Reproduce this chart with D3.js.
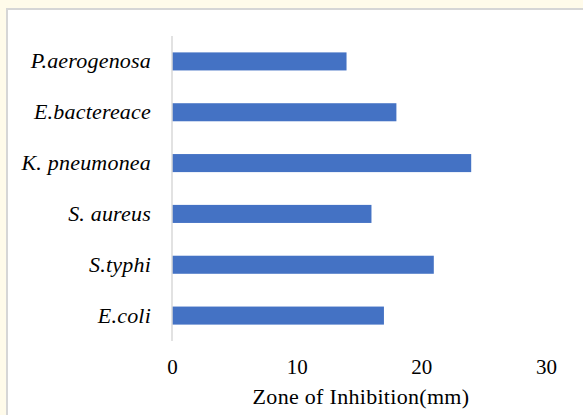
<!DOCTYPE html>
<html>
<head>
<meta charset="utf-8">
<script src="https://cdn.jsdelivr.net/npm/d3@7"></script>
<style>
  html, body { margin: 0; padding: 0; background: #fffbea; }
  svg { display: block; }
</style>
</head>
<body>
<div id="chart"></div>
<script>
// Organisms, listed bottom to top as drawn
const organisms = ["E.coli", "S.typhi", "S. aureus", "K. pneumonea", "E.bactereace", "P.aerogenosa"];
// Zone of inhibition (mm) for each organism
const zoneValues = [17, 21, 16, 24, 18, 14];
// Tick values along the value axis
const xTicks = [0, 10, 20, 30];
const xTitle = "Zone of Inhibition(mm)";

const W = 583, H = 415;
const svg = d3.select("#chart").append("svg")
  .attr("width", W).attr("height", H);

// Outer panel with a light grey frame
svg.append("rect")
  .attr("x", 7).attr("y", 9).attr("width", W).attr("height", H)
  .attr("fill", "#ffffff")
  .attr("stroke", "#d6d6d6").attr("stroke-width", 2);

const plot = { left: 172, right: 546, top: 36, bottom: 341 };

const x = d3.scaleLinear().domain([0, 30]).range([plot.left, plot.right]);
const y = d3.scaleBand()
  .domain(organisms.slice().reverse())
  .range([plot.top, plot.bottom])
  .paddingInner(0.645).paddingOuter(0.3225);

// Bars
svg.append("g").selectAll("rect")
  .data(organisms.map((o, i) => ({ name: o, value: zoneValues[i] })))
  .join("rect")
  .attr("x", x(0))
  .attr("y", d => y(d.name))
  .attr("width", d => x(d.value) - x(0))
  .attr("height", y.bandwidth())
  .attr("fill", "#4472c4");

// Category axis line
svg.append("line")
  .attr("x1", x(0)).attr("x2", x(0))
  .attr("y1", plot.top).attr("y2", plot.bottom)
  .attr("stroke", "#d9d9d9").attr("stroke-width", 1.5);

const serif = "'Liberation Serif', 'Times New Roman', serif";

// Category labels (italic species names)
const yAxis = d3.axisLeft(y).tickSize(0).tickPadding(21);
const gy = svg.append("g").attr("transform", `translate(${x(0)},0)`).call(yAxis);
gy.select(".domain").remove();
gy.selectAll("text")
  .attr("font-family", serif)
  .attr("font-style", "italic")
  .attr("font-size", 22)
  .attr("letter-spacing", 0.2)
  .attr("fill", "#000");

// Value axis tick labels
const xAxis = d3.axisBottom(x).tickValues(xTicks).tickSize(0).tickPadding(18);
const gx = svg.append("g").attr("transform", `translate(0,${plot.bottom})`).call(xAxis);
gx.select(".domain").remove();
gx.selectAll("text")
  .attr("font-family", serif)
  .attr("font-size", 21)
  .attr("fill", "#000");

// Axis title
svg.append("text")
  .attr("x", (plot.left + plot.right) / 2 + 2)
  .attr("y", 404)
  .attr("text-anchor", "middle")
  .attr("font-family", serif)
  .attr("font-size", 22)
  .attr("letter-spacing", 0.3)
  .attr("fill", "#000")
  .text(xTitle);
</script>
</body>
</html>
